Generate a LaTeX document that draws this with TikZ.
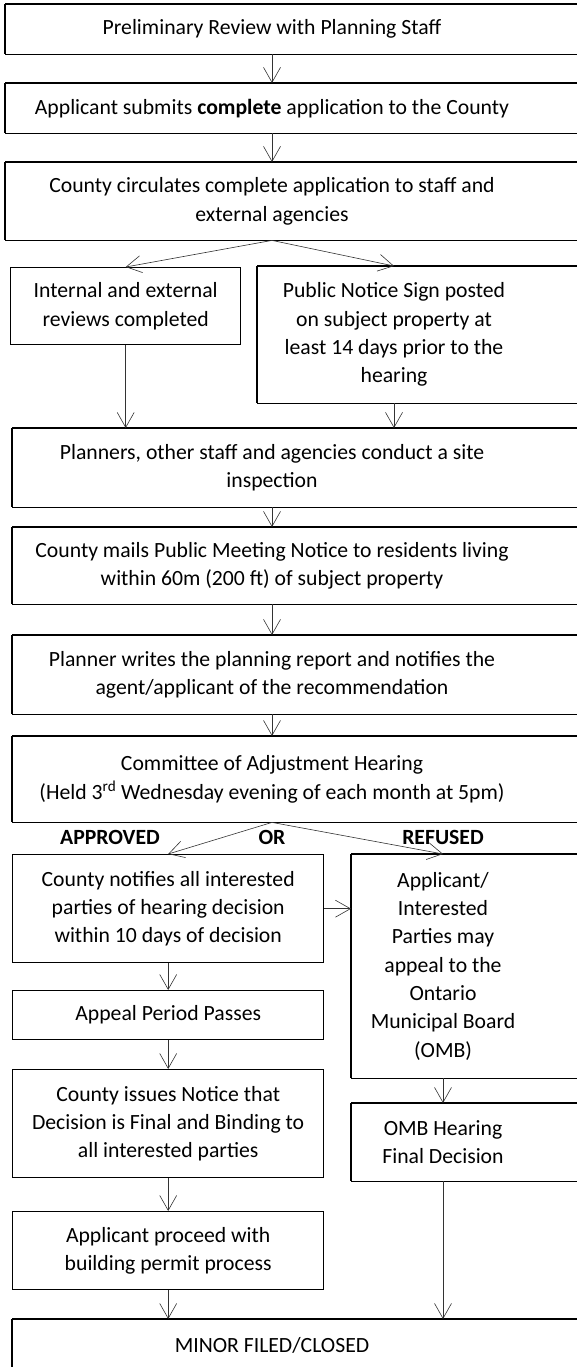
\documentclass[tikz,border=0pt]{standalone}
\usepackage{fontspec}
\setmainfont{Carlito}
\usetikzlibrary{arrows.meta}
\newcommand{\boxfont}{\fontsize{21.7}{28.3}\selectfont}
\tikzset{
  box/.style={draw, line width=1.4pt, anchor=north west, inner sep=0pt},
  frame/.style={line width=1.4pt},
  openbox/.style={box, draw=none, append after command={
      (\tikzlastnode.north east) edge[frame] (\tikzlastnode.north west)
      (\tikzlastnode.north west) edge[frame] (\tikzlastnode.south west)
      (\tikzlastnode.south west) edge[frame] (\tikzlastnode.south east)}},
  tailbox/.style={box, draw=none, append after command={
      (\tikzlastnode.north east) edge[frame] (\tikzlastnode.north west)
      (\tikzlastnode.north west) edge[frame] (\tikzlastnode.south west)}},
  txt/.style={align=center, font=\boxfont, inner sep=0pt},
  flow/.style={-{Straight Barb[length=15pt,width=17pt]}, line width=0.6pt, black!80},
}

\begin{document}
\begin{tikzpicture}[x=1pt,y=-1pt]
                \useasboundingbox (0,0) rectangle (577,1367);
                \coordinate (main) at (272,0);
                \coordinate (rtop) at (394,0);
                \coordinate (rcol) at (443,0);

                \node[openbox, minimum width=572pt, minimum height=49pt] (prelim) at (5,4) {};
                \node[txt] (prelimtxt) at (prelim.center -| main) {Preliminary Review with Planning Staff};
                \node[openbox, minimum width=572pt, minimum height=49pt] (submit) at (5,83) {};
                \node[txt] (submittxt) at (submit.center -| main) {Applicant submits \textbf{complete} application to the County};
                \node[openbox, minimum width=572pt, minimum height=77pt] (circulate) at (5,162) {};
                \node[txt] (circulatetxt) at (circulate.center -| main) {County circulates complete application to staff and\\external agencies};

                \node[box, minimum width=230pt, minimum height=77pt] (reviews) at (10,267) {};
                \node[txt] (reviewstxt) at (reviews.center) {Internal and external\\reviews completed};
                \node[openbox, minimum width=320pt, minimum height=136pt] (sign) at (257,266) {};
                \node[txt] (signtxt) at (sign.center -| rtop) {Public Notice Sign posted\\on subject property at\\least 14 days prior to the\\hearing};

                \node[openbox, minimum width=565pt, minimum height=78pt] (inspect) at (12,428) {};
                \node[txt] (inspecttxt) at (inspect.center -| main) {Planners, other staff and agencies conduct a site\\inspection};
                \node[openbox, minimum width=565pt, minimum height=76pt] (mailing) at (12,527) {};
                \node[txt] (mailingtxt) at (mailing.center -| main) {County mails Public Meeting Notice to residents living\\within 60m (200 ft) of subject property};
                \node[openbox, minimum width=565pt, minimum height=78pt] (report) at (12,635) {};
                \node[txt] (reporttxt) at (report.center -| main) {Planner writes the planning report and notifies the\\agent/applicant of the recommendation};
                \node[openbox, minimum width=565pt, minimum height=85pt] (hearing) at (12,736) {};
                \node[txt] (hearingtxt) at (hearing.center -| main) {Committee of Adjustment Hearing\\(Held 3\textsuperscript{rd} Wednesday evening of each month at 5pm)};

                \node[txt] (approved) at (110,837) {\textbf{APPROVED}};
                \node[txt] (or) at (272,837) {\textbf{OR}};
                \node[txt] (refused) at (443,837) {\textbf{REFUSED}};

                \node[box, minimum width=311pt, minimum height=108pt] (notify) at (12,854) {};
                \node[txt] (notifytxt) at (notify.center) {County notifies all interested\\parties of hearing decision\\within 10 days of decision};
                \node[openbox, minimum width=226pt, minimum height=223pt] (appeal) at (351,854) {};
                \node[txt] (appealtxt) at (appeal.center -| rcol) {Applicant/\\Interested\\Parties may\\appeal to the\\Ontario\\Municipal Board\\(OMB)};
                \node[box, minimum width=311pt, minimum height=49pt] (passes) at (12,990) {};
                \node[txt] (passestxt) at (passes.center) {Appeal Period Passes};
                \node[box, minimum width=311pt, minimum height=108pt] (binding) at (12,1069) {};
                \node[txt] (bindingtxt) at (binding.center) {County issues Notice that\\Decision is Final and Binding to\\all interested parties};
                \node[openbox, minimum width=226pt, minimum height=77pt] (omb) at (351,1103) {};
                \node[txt] (ombtxt) at (omb.center -| rcol) {OMB Hearing\\Final Decision};
                \node[box, minimum width=311pt, minimum height=78pt] (permit) at (12,1211) {};
                \node[txt] (permittxt) at (permit.center) {Applicant proceed with\\building permit process};
                \node[tailbox, minimum width=565pt, minimum height=48pt] (closed) at (12,1319) {};
                \node[txt] (closedtxt) at (closed.north -| main) [yshift=-26pt] {MINOR FILED/CLOSED};

                \draw[flow] (prelim.south -| main) -- (submit.north -| main);
                \draw[flow] (submit.south -| main) -- (circulate.north -| main);
                \draw[flow] (circulate.south -| main) -- (reviews.north);
                \draw[flow] (circulate.south -| main) -- (sign.north -| rtop);
                \draw[flow] (reviews.south) -- (inspect.north -| reviews.south);
                \draw[flow] (sign.south -| rtop) -- (inspect.north -| rtop);
                \draw[flow] (inspect.south -| main) -- (mailing.north -| main);
                \draw[flow] (mailing.south -| main) -- (report.north -| main);
                \draw[flow] (report.south -| main) -- (hearing.north -| main);
                \draw[flow] (hearing.south -| main) -- (notify.north);
                \draw[flow] (hearing.south -| main) -- (appeal.north -| rcol);
                \draw[flow] (notify.east) -- (appeal.west |- notify.east);
                \draw[flow] (notify.south) -- (passes.north);
                \draw[flow] (passes.south) -- (binding.north);
                \draw[flow] (binding.south) -- (permit.north);
                \draw[flow] (permit.south) -- (closed.north -| permit.south);
                \draw[flow] (appeal.south -| rcol) -- (omb.north -| rcol);
                \draw[flow] (omb.south -| rcol) -- (closed.north -| rcol);
            \end{tikzpicture}
\end{document}
